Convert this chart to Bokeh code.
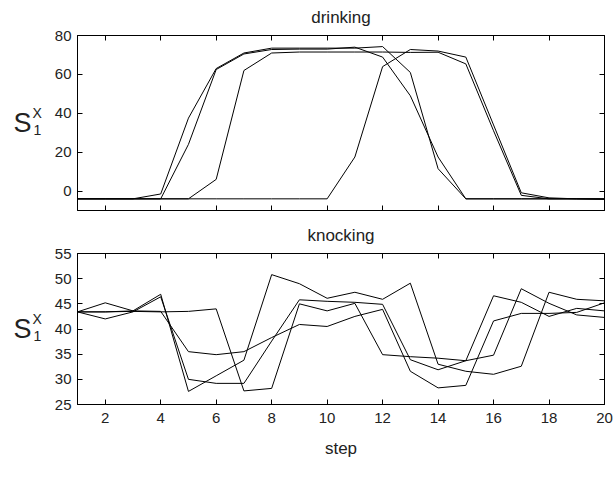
from bokeh.plotting import figure
from bokeh.layouts import column, row
from bokeh.models import LinearAxis, Range1d, FixedTicker, CustomJSTickFormatter
from bokeh.core.properties import value
from bokeh.embed import file_html
from bokeh.resources import INLINE

# ---------------- data ----------------
steps = list(range(1, 21))

drinking_a = [-4, -4, -4, -1.5, 37.5, 63, 71, 73.5, 73.5, 73.5, 73.5, 74.3, 61, 11.5, -4, -4, -4, -4, -4, -4]
drinking_b = [-4, -4, -4, -4, 24, 62.5, 70.5, 72.8, 73, 73, 74, 68.9, 49, 17.5, -4, -4, -4, -4, -4, -4]
drinking_c = [-4, -4, -4, -4, -4, 6, 62, 71, 71.5, 71.5, 71.5, 71.5, 71.3, 71.4, 65.4, 31, -2.2, -4, -4, -4.2]
drinking_d = [-4, -4, -4, -4, -4, -4, -4, -4, -4, -4, 17.5, 64, 72.8, 72, 68.9, 34, -0.9, -3.5, -4, -4.2]

knocking_a = [43.4, 45.2, 43.6, 46.9, 27.6, 30.7, 33.8, 50.8, 49.0, 46.1, 47.3, 45.9, 49.1, 33.0, 31.6, 31.0, 32.6, 47.3, 45.9, 45.6]
knocking_b = [43.4, 42.0, 43.4, 46.4, 30.0, 29.2, 29.2, 37.6, 45.8, 45.5, 45.3, 44.9, 33.9, 31.9, 33.7, 46.6, 45.3, 42.5, 44.1, 43.6]
knocking_c = [43.4, 43.4, 43.6, 43.5, 35.5, 34.9, 35.5, 38.3, 40.9, 40.5, 42.5, 43.9, 31.6, 28.3, 28.8, 41.6, 43.1, 43.1, 43.3, 45.2]
knocking_d = [43.4, 43.4, 43.5, 43.4, 43.5, 44.0, 27.7, 28.2, 45.0, 43.6, 45.1, 34.9, 34.5, 34.2, 33.7, 34.8, 48.0, 45.1, 42.8, 42.3]

x_ticks = [2, 4, 6, 8, 10, 12, 14, 16, 18, 20]
drinking_yticks = [0, 20, 40, 60, 80]
knocking_yticks = [25, 30, 35, 40, 45, 50, 55]
drinking_ylim = (-10, 80)
knocking_ylim = (25, 55)

titles = ["drinking", "knocking"]
x_label = "step"
y_label_main, y_label_sub, y_label_sup = "S", "1", "X"

FONT = "Liberation Sans"
TICK_FS = "15px"
TXT = "#222222"

# ---------------- layout constants (pixels) ----------------
LAB_W = 48
PLOT_W = 615 - LAB_W
H1, H2 = 217, 270
TOP_CENTERS = [122.5, 328.5]   # vertical centres of the two frames in page pixels


def blank():
    return CustomJSTickFormatter(code="return ''")


def style_axis(ax, ticks, labels=True):
    ax.ticker = FixedTicker(ticks=ticks)
    ax.major_tick_in = 5
    ax.major_tick_out = 0
    ax.minor_tick_line_color = None
    ax.axis_line_color = "black"
    ax.major_tick_line_color = "black"
    ax.major_label_text_font = FONT
    ax.major_label_text_font_size = TICK_FS
    ax.major_label_text_color = TXT
    if not labels:
        ax.formatter = blank()
        ax.major_label_standoff = 0
        ax.major_label_text_font_size = "0px"


def make_fig(height, top, bottom, ylim, yticks, title, xlabels):
    p = figure(width=PLOT_W, height=height,
               x_range=Range1d(1, 20), y_range=Range1d(*ylim),
               output_backend="svg", toolbar_location=None,
               min_border_left=77 - LAB_W, min_border_right=11,
               min_border_top=top, min_border_bottom=bottom)
    p.grid.visible = False
    p.outline_line_color = "black"
    p.outline_line_width = 1
    p.background_fill_color = "white"
    p.border_fill_color = "white"
    p.title.text = title
    p.title.align = "center"
    p.title.vertical_align = "top"
    p.title.text_line_height = 0.9
    p.title.text_font = FONT
    p.title.text_font_size = "17px"
    p.title.text_font_style = "normal"
    p.title.text_color = TXT
    p.title.standoff = 13
    bottom_axis = p.xaxis[0]
    left_axis = p.yaxis[0]
    style_axis(bottom_axis, x_ticks, labels=xlabels)
    style_axis(left_axis, yticks, labels=True)
    left_axis.major_label_standoff = 6
    right = LinearAxis()
    style_axis(right, yticks, labels=False)
    p.add_layout(right, "right")
    above = LinearAxis()
    style_axis(above, x_ticks, labels=False)
    p.add_layout(above, "above")
    return p, bottom_axis


p1, _ = make_fig(H1, 35, 7, drinking_ylim, drinking_yticks, titles[0], xlabels=False)
for ys in (drinking_a, drinking_b, drinking_c, drinking_d):
    p1.line(steps, ys, line_color="black", line_width=1)

p2, xax2 = make_fig(H2, 36, 83, knocking_ylim, knocking_yticks, titles[1], xlabels=True)
for ys in (knocking_a, knocking_b, knocking_c, knocking_d):
    p2.line(steps, ys, line_color="black", line_width=1)
xax2.axis_label = x_label
xax2.axis_label_text_font = FONT
xax2.axis_label_text_font_size = "17px"
xax2.axis_label_text_font_style = "normal"
xax2.axis_label_text_color = TXT
xax2.axis_label_standoff = 13
xax2.major_label_standoff = 8

# ---------------- y-axis label column (S with sub/superscript) ----------------
lab = figure(width=LAB_W, height=H1 + H2, x_range=Range1d(0, LAB_W), y_range=Range1d(H1 + H2, 0),
             output_backend="svg", toolbar_location=None,
             min_border=0, min_border_left=0, min_border_right=0, min_border_top=0, min_border_bottom=0)
lab.axis.visible = False
lab.grid.visible = False
lab.outline_line_color = None
lab.background_fill_color = "white"
lab.border_fill_color = "white"
lab.text(x=[13] * 2, y=TOP_CENTERS, text=[y_label_main] * 2, text_font=value(FONT),
         text_font_size="27px", text_baseline="middle", text_align="left", text_color=TXT)
lab.text(x=[32] * 2, y=[c - 10 for c in TOP_CENTERS], text=[y_label_sup] * 2, text_font=value(FONT),
         text_font_size="14px", text_baseline="middle", text_align="left", text_color=TXT)
lab.text(x=[33] * 2, y=[c + 7 for c in TOP_CENTERS], text=[y_label_sub] * 2, text_font=value(FONT),
         text_font_size="14px", text_baseline="middle", text_align="left", text_color=TXT)

layout = row(lab, column(p1, p2, spacing=0), spacing=0)
open("out.html", "w").write(file_html(layout, INLINE))
